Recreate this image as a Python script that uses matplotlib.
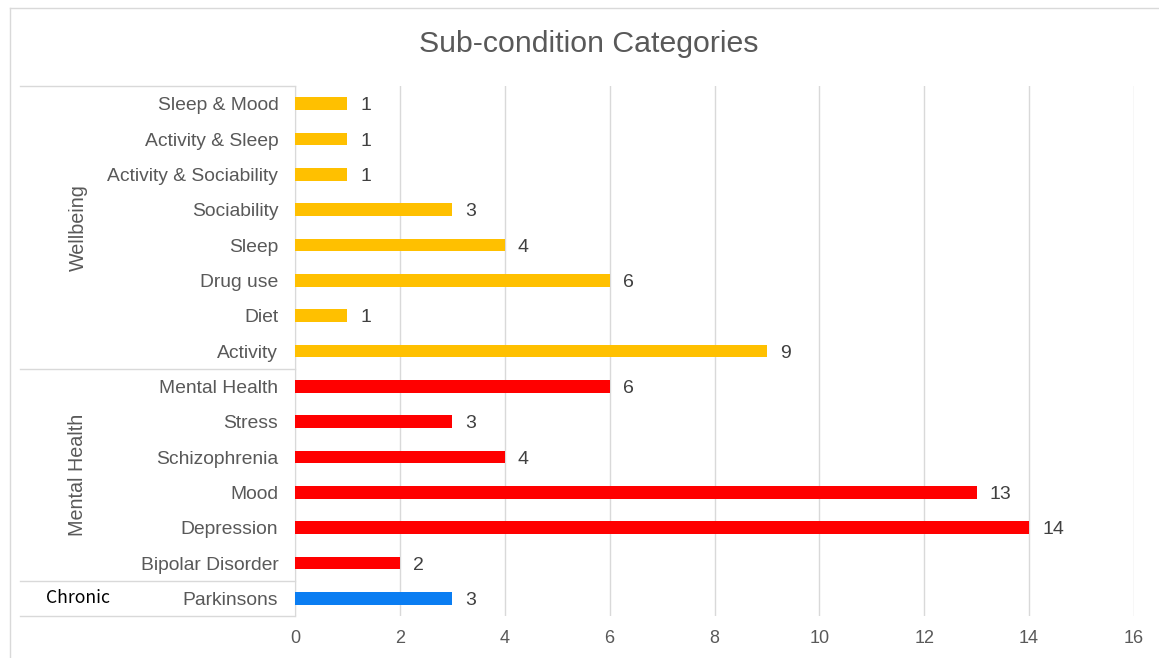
import matplotlib.pyplot as plt
from matplotlib.lines import Line2D

# data, bottom to top
labels = ['Parkinsons', 'Bipolar Disorder', 'Depression', 'Mood', 'Schizophrenia',
          'Stress', 'Mental Health', 'Activity', 'Diet', 'Drug use', 'Sleep',
          'Sociability', 'Activity & Sociability', 'Activity & Sleep', 'Sleep & Mood']
values = [3, 2, 14, 13, 4, 3, 6, 9, 1, 6, 4, 3, 1, 1, 1]
groups = ['Chronic', 'Mental Health', 'Wellbeing']
group_sizes = [1, 6, 8]
group_colors = ['#0A7DF2', '#FF0000', '#FFC000']

plt.rcParams['font.family'] = ['Liberation Sans', 'DejaVu Sans']
grey = '#595959'
line_c = '#D9D9D9'

fig = plt.figure(figsize=(11.59, 6.58), dpi=100)
ax = fig.add_axes([295/1159, 1-616/658, 839/1159, 530/658])

colors = []
for g, n in enumerate(group_sizes):
    colors += [group_colors[g]] * n
y = list(range(len(labels)))
ax.barh(y, values, height=0.36, color=colors, zorder=3)
for yi, v in zip(y, values):
    ax.text(v + 0.25, yi, str(v), va='center_baseline', ha='left', fontsize=14, color='#404040')

ax.set_xlim(0, 16)
ax.set_ylim(-0.5, len(labels) - 0.5)
ax.set_xticks(range(0, 17, 2))
ax.set_yticks(y)
ax.set_yticklabels(labels, fontsize=13.9, color=grey)
ax.tick_params(axis='x', labelsize=13, colors=grey, length=0, pad=10)
ax.tick_params(axis='y', length=0, pad=12)
ax.grid(axis='x', color=line_c, linewidth=1, zorder=0)
for s in ['top', 'right', 'bottom']:
    ax.spines[s].set_visible(False)
ax.spines['left'].set_color(line_c)

# group brackets
trans = ax.get_yaxis_transform()
xl = (20 - 295) / 839
start = -0.5
for g, n in enumerate(group_sizes):
    end = start + n
    ax.add_line(Line2D([xl, 0], [start, start], transform=trans, color=line_c,
                       linewidth=1, clip_on=False))
    mid = (start + end) / 2
    if n > 1:
        ax.text((78 - 295) / 839, mid, groups[g], transform=trans, rotation=90,
                ha='center', va='center', fontsize=14.2, color=grey)
    else:
        ax.text((78 - 295) / 839, mid, groups[g], transform=trans,
                ha='center', va='center', fontsize=12.7, color='black',
                family=['Noto Sans CJK SC', 'DejaVu Sans'])
    start = end
ax.add_line(Line2D([xl, 0], [start, start], transform=trans, color=line_c,
                   linewidth=1, clip_on=False))

# outer chart border
fig.add_artist(Line2D([10/1159, 10/1159], [0, 1-8/658], transform=fig.transFigure,
                      color=line_c, linewidth=1))
fig.add_artist(Line2D([10/1159, 1], [1-8/658, 1-8/658], transform=fig.transFigure,
                      color=line_c, linewidth=1))

fig.text(589/1159, 1-44/658, 'Sub-condition Categories', ha='center', va='center',
         fontsize=21.8, color=grey)

fig.savefig('out.png', dpi=100)
